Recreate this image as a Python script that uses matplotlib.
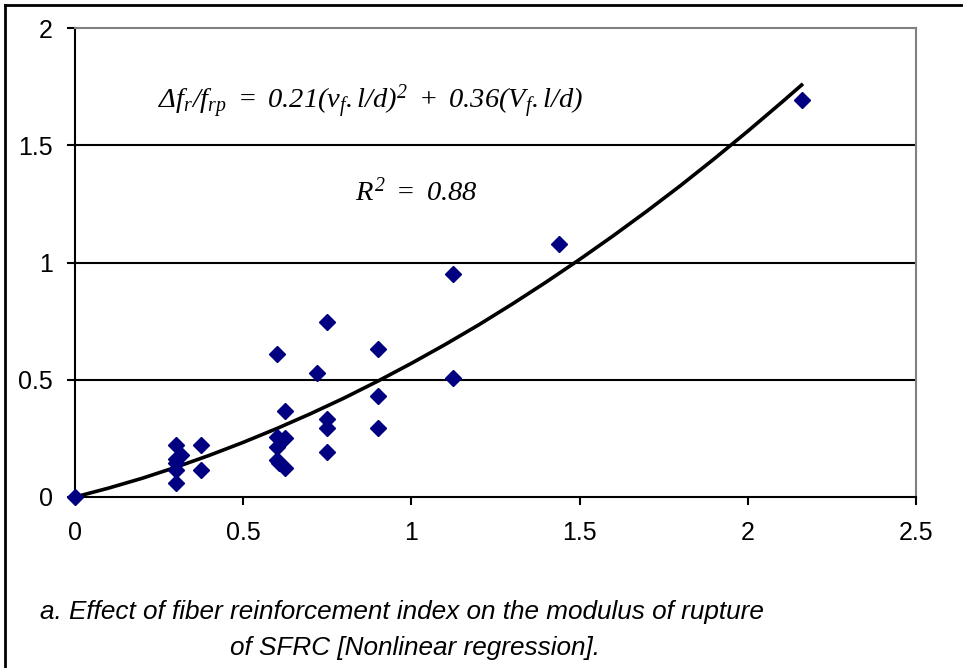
import numpy as np
import matplotlib
matplotlib.use("Agg")
from matplotlib import pyplot as plt
from matplotlib.lines import Line2D

plt.rcParams['font.family'] = ['Liberation Sans', 'DejaVu Sans']
plt.rcParams['mathtext.fontset'] = 'custom'
plt.rcParams['mathtext.rm'] = 'Liberation Serif:italic'
plt.rcParams['mathtext.it'] = 'Liberation Serif:italic'

# datos (indice de refuerzo vs incremento relativo de MOR)
x_pts = [0, 0.3, 0.3, 0.315, 0.3, 0.3, 0.3, 0.375, 0.375,
         0.6, 0.625, 0.6, 0.625, 0.6, 0.6, 0.605, 0.625,
         0.72, 0.75, 0.75, 0.75, 0.75,
         0.9, 0.9, 0.9, 1.125, 1.125, 1.44, 2.16]
y_pts = [0, 0.22, 0.16, 0.18, 0.145, 0.115, 0.058, 0.22, 0.115,
         0.61, 0.365, 0.257, 0.253, 0.215, 0.158, 0.144, 0.122,
         0.527, 0.748, 0.331, 0.293, 0.193,
         0.63, 0.431, 0.296, 0.509, 0.952, 1.079, 1.693]

# curva de regresion
x_fit = [0, 0.1, 0.2, 0.3, 0.4, 0.5, 0.6, 0.7, 0.8, 0.9, 1.0, 1.1,
         1.2, 1.3, 1.4, 1.5, 1.6, 1.7, 1.8, 1.9, 2.0, 2.1, 2.16]
y_fit = [0, 0.038, 0.080, 0.127, 0.178, 0.233, 0.292, 0.355, 0.422, 0.494, 0.570, 0.650,
         0.734, 0.823, 0.916, 1.013, 1.114, 1.219, 1.328, 1.442, 1.560, 1.682, 1.757]

xticks = [0, 0.5, 1, 1.5, 2, 2.5]
yticks = [0, 0.5, 1, 1.5, 2]

fig = plt.figure(figsize=(9.63, 6.68), dpi=100)
ax = fig.add_axes([75/963, (668-497)/668, (916-75)/963, (497-28)/668])

for yy in [0.5, 1, 1.5]:
    ax.axhline(yy, color='black', lw=1.5, zorder=1)

ax.plot(x_fit, y_fit, color='black', lw=2.6, zorder=2)
ax.plot(x_pts, y_pts, 'D', color='#000080', ms=8, mec='#000080', zorder=3, clip_on=False)

ax.set_xlim(0, 2.5)
ax.set_ylim(0, 2)
ax.set_xticks(xticks)
ax.set_yticks(yticks)
ax.set_xticklabels(['0', '0.5', '1', '1.5', '2', '2.5'], fontsize=18)
ax.set_yticklabels(['0', '0.5', '1', '1.5', '2'], fontsize=18)
ax.tick_params(axis='both', direction='out', length=6, width=1.5, color='black')
ax.tick_params(axis='x', pad=11)
ax.tick_params(axis='y', pad=10)

ax.spines['left'].set_color('black')
ax.spines['bottom'].set_color('black')
ax.spines['left'].set_linewidth(1.5)
ax.spines['bottom'].set_linewidth(1.5)
ax.spines['top'].set_color('#808080')
ax.spines['right'].set_color('#808080')
ax.spines['top'].set_linewidth(1.5)
ax.spines['right'].set_linewidth(1.5)

ax.text(0.247, 1.685, r'$\Delta f_r/f_{rp}\ =\ 0.21(v_f.l/d)^2\ +\ 0.36(V_f.l/d)$',
        fontsize=20.5, ha='left', va='center')
ax.text(0.832, 1.30, r'$R^2\ =\ 0.88$', fontsize=20.5, ha='left', va='center')

fig.text(40/963, 1-612/668, 'a. Effect of fiber reinforcement index on the modulus of rupture',
         fontsize=18.8, style='italic', ha='left', va='center')
fig.text(230/963, 1-648/668, 'of SFRC [Nonlinear regression].',
         fontsize=18.8, style='italic', ha='left', va='center')

# marco exterior
fig.add_artist(Line2D([5/963, 1], [1-5/668, 1-5/668], color='black', lw=2, transform=fig.transFigure))
fig.add_artist(Line2D([5/963, 5/963], [0, 1-5/668], color='black', lw=2, transform=fig.transFigure))

plt.savefig("out.png", dpi=100)
